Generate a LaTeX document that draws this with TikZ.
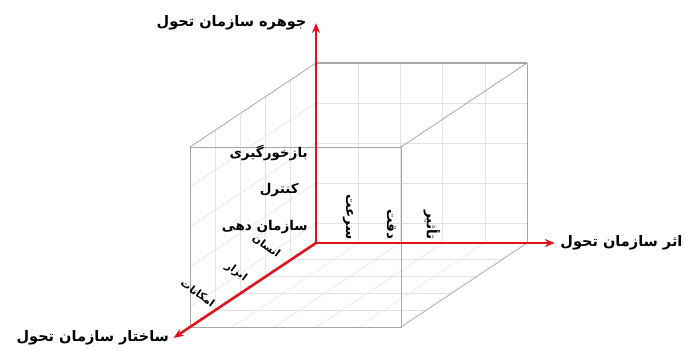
\documentclass[tikz,border=0pt]{standalone}
\usepackage{fontspec}
\usepackage{tikz}
\usetikzlibrary{arrows.meta}
\TeXXeTstate=1
\newfontfamily\farsi[Script=Arabic]{DejaVu Sans}
\definecolor{axisred}{RGB}{226,18,26}

\begin{document}
\begin{tikzpicture}[x={(42.2pt,0pt)}, y={(0pt,40pt)}, z={(-25.2pt,-16.8pt)},
    gridline/.style={gray!22, line width=0.6pt},
    cubeedge/.style={gray!70, line width=0.8pt},
    axisline/.style={axisred, line width=2.6pt, -{Stealth[length=10pt,width=8pt]}},
    axislabel/.style={text=black, font=\farsi\bfseries\fontsize{14.5}{16}\selectfont},
    itemlabel/.style={font=\farsi\bfseries\fontsize{13.5}{15}\selectfont, inner sep=1pt},
    depthlabel/.style={font=\farsi\bfseries\fontsize{10.5}{12}\selectfont, inner sep=1pt, rotate=-36}]
    \useasboundingbox (-316pt,-107pt) rectangle (369pt,243pt);

    % walls and floor grid
    \foreach \i in {1,...,4} {
        \draw [gridline] (\i,0,0) -- (\i,4.5,0);
        \draw [gridline] (0,0,\i) -- (0,4.5,\i);
        \draw [gridline] (\i,0,0) -- (\i,0,5);
        \draw [gridline] (0,0,\i) -- (5,0,\i);
    }
    \foreach \j in {0.5,1.5,2.5,3.5} {
        \draw [gridline] (0,\j,0) -- (5,\j,0);
        \draw [gridline] (0,\j,0) -- (0,\j,5);
    }

    % cube edges
    \draw [cubeedge, line width=1.4pt] (0,4.5,0) -- (5,4.5,0);
    \draw [cubeedge] (5,0,0) -- (5,4.5,0);
    \draw [cubeedge] (0,4.5,0) -- (0,4.5,5);
    \draw [cubeedge] (5,4.5,0) -- (5,4.5,5);
    \draw [cubeedge] (5,0,0) -- (5,0,5);
    \draw [cubeedge] (0,0,5) rectangle (5,4.5,5);

    % item labels
    \node [itemlabel, anchor=east] (feedback) at (-0.17,2.25,0) {\beginR بازخورگیری\endR};
    \node [itemlabel, anchor=east] (control) at (-0.38,1.33,0) {\beginR کنترل\endR};
    \node [itemlabel, anchor=east] (organize) at (-0.17,0.4,0) {\beginR سازمان دهی\endR};

    \node [itemlabel, anchor=east, rotate=-90] (speed) at (0.76,0.06,0) {\beginR سرعت\endR};
    \node [itemlabel, anchor=east, rotate=-90] (accuracy) at (1.78,0.06,0) {\beginR دقت\endR};
    \node [itemlabel, anchor=east, rotate=-90] (impact) at (2.75,0.06,0) {\beginR تأثیر\endR};

    \node [depthlabel] (human) at (-1.06,0,0.2) {\beginR انسان\endR};
    \node [depthlabel] (tools) at (-0.86,0,1.73) {\beginR ابزار\endR};
    \node [depthlabel] (means) at (-1.02,0,2.98) {\beginR امکانات\endR};

    % axes
    \coordinate (O) at (0,0,0);
    \coordinate (ytip) at (0,5.5,0);
    \coordinate (xtip) at (5.66,0,0);
    \coordinate (ztip) at (0,0,5.65);
    \draw [axisline] (O) -- (ytip) node [axislabel, left=5pt] (essence) {\beginR جوهره سازمان تحول\endR};
    \draw [axisline] (O) -- (xtip) node [axislabel, right=1pt] (effect) {\beginR اثر سازمان تحول\endR};
    \draw [axisline] (O) -- (ztip) node [axislabel, left=0pt] (structure) {\beginR ساختار سازمان تحول\endR};
\end{tikzpicture}
\end{document}
